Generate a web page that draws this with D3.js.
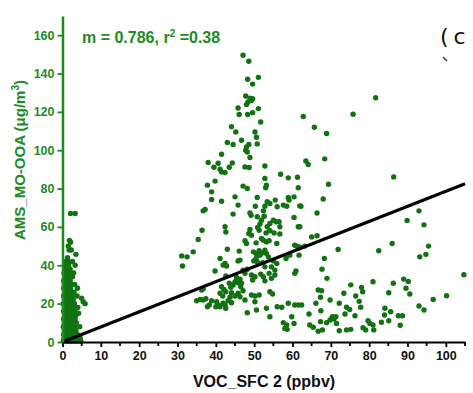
<!DOCTYPE html>
<html>
<head>
<meta charset="utf-8">
<script src="https://cdn.jsdelivr.net/npm/d3@7"></script>
<style>
  body { margin: 0; background: #fff; }
  svg { display: block; }
  text { font-family: "Liberation Sans", Arial, sans-serif; }
</style>
</head>
<body>
<div id="chart"></div>
<script>
// tick labels
var xTicks = [0, 10, 20, 30, 40, 50, 60, 70, 80, 90, 100];
var xMinorTicks = [5, 15, 25, 35, 45, 55, 65, 75, 85, 95, 105];
var yTicks = [0, 20, 40, 60, 80, 100, 120, 140, 160];

// fit
var slope = 0.786;
var rSquared = 0.38;

// points close to 0 ppbv (the dense column next to the y axis)
var nearSurface = [
    [0.2,0.5],[0.7,0.5],[1.2,0.5],[1.7,0.5],[2.2,0.5],[2.7,0.5],[3.2,0.5],[3.7,0.5],[4.2,0.5],[4.8,0.5],
    [0.4,2],[1.0,2],[1.6,2],[2.2,2],[2.8,2],[3.4,2],[4.0,2],[4.6,2],
    [0.3,4],[0.9,4],[1.5,4],[2.1,4],[2.7,4],[3.3,4],[3.9,4],
    [0.5,6],[1.1,6],[1.7,6],[2.3,6],[2.9,6],[3.5,6],
    [0.2,8],[0.8,8],[1.4,8],[2.0,8],[2.6,8],[3.2,8],[4.5,8],
    [0.5,10],[1.1,10],[1.7,10],[2.3,10],[2.9,10],[3.6,10],
    [0.3,12],[0.9,12],[1.5,12],[2.1,12],[2.7,12],[3.3,12],
    [0.6,14],[1.2,14],[1.8,14],[2.4,14],[3.0,14],[3.5,14],[4.2,15],
    [0.3,16],[0.9,16],[1.5,16],[2.1,16],[2.7,16],[3.2,16],
    [0.5,18],[1.1,18],[1.7,18],[2.3,18],[2.9,18],[4.0,18],
    [0.2,20],[0.8,20],[1.4,20],[2.0,20],[2.6,20],[3.1,20],
    [0.5,22],[1.1,22],[1.7,22],[2.3,22],[2.8,22],
    [0.3,24],[0.9,24],[1.5,24],[2.1,24],[2.6,24],[3.8,24],
    [0.6,26],[1.2,26],[1.8,26],[2.4,26],[3.0,26],
    [0.3,28],[0.9,28],[1.5,28],[2.1,28],[3.9,28],
    [0.5,30],[1.1,30],[1.7,30],[2.4,30],[3.2,30],
    [0.3,32],[0.9,32],[1.4,32],[2.0,32],
    [0.6,34],[1.2,34],[1.8,34],[2.6,34],
    [0.4,36],[1.0,36],[1.6,36],[2.9,36],
    [0.7,38],[1.3,38],[2.0,38],
    [0.5,40],[1.1,40],[1.6,40],[3.3,40],
    [0.9,42],[1.5,42],[2.6,42],[1.3,44],
    [3.5,45.7],[1.7,48],[2.3,48],[1.5,50],[2.1,52],[1.8,53],
    [2.1,67],[3.3,67],
    [5.0,22.8],[5.4,21],[5.9,20]
];

// the scattered cloud from ~30 to 105 ppbv
var mainCloud = [
    [47.1,149.5],[48.6,146.4],[48.3,137.0],[51.1,138.0],[49.6,134.5],[47.8,128.3],[48.9,127.2],
    [49.3,126.0],[48.4,125.2],[48.0,123.8],[49.6,126.9],[45.8,122.0],[51.1,121.7],[46.1,118.6],
    [48.3,118.6],[49.6,119.6],[51.7,114.7],[62.8,117.6],[44.1,112.3],[45.2,109.5],[50.2,109.5],
    [50.6,106.8],[46.7,105.2],[43.0,104.0],[44.5,103.0],[50.8,103.3],[48.6,103.0],[48.0,101.7],
    [47.8,100.0],[48.2,99.1],[41.5,97.9],[48.9,96.2],[38.0,93.6],[40.6,93.2],[39.5,91.1],
    [44.3,93.4],[43.5,91.1],[41.1,90.1],[41.5,88.7],[42.4,88.4],[47.6,91.3],[48.7,91.0],
    [52.8,91.8],[63.5,94.4],[64.1,92.6],[56.9,87.5],[58.9,85.6],[61.3,85.9],[52.8,85.3],
    [39.8,83.9],[38.9,78.3],[47.1,81.3],[48.2,80.1],[53.2,81.8],[53.0,80.4],[61.5,80.4],
    [37.8,81.8],[65.7,112.0],[68.9,108.7],[75.8,118.8],[81.7,127.4],[68.4,95.5],[69.4,82.3],
    [86.4,86.1],[68.0,74.6],[66.4,67.3],[61.9,71.0],[61.9,60.1],[65.0,54.8],[66.4,55.4],
    [61.9,49.6],[71.9,48.3],[68.3,43.6],[67.7,38.0],[69.0,33.2],[82.5,47.6],[86.0,51.4],
    [89.9,63.4],[93.0,68.4],[94.3,61.1],[95.5,50.0],[93.2,44.4],[94.8,45.7],[104.7,35.1],
    [66.7,27.1],[67.6,26.7],[75.2,29.8],[78.0,28.5],[78.3,26.2],[81.0,31.4],[86.3,30.6],
    [89.0,32.8],[90.2,31.6],[89.6,28.0],[90.6,25.0],[85.1,25.7],[76.5,24.0],[73.4,25.4],
    [67.3,23.3],[69.8,21.9],[62.4,19.3],[66.1,20.2],[72.2,20.2],[77.4,21.2],[77.8,18.1],
    [74.1,18.1],[74.9,17.0],[96.7,22.2],[100.2,24.1],[93.0,18.8],[94.3,16.7],[84.1,17.6],
    [84.0,14.1],[85.6,15.8],[85.1,11.1],[87.6,13.7],[88.7,13.7],[88.1,8.7],[64.3,14.6],
    [67.4,16.3],[73.7,14.6],[76.3,13.7],[70.4,13.2],[70.8,12.0],[71.3,13.2],[69.8,11.5],
    [71.5,9.7],[68.9,10.1],[67.3,10.6],[64.5,8.9],[65.4,7.7],[66.7,5.6],[67.8,6.3],
    [72.2,5.9],[74.1,6.3],[75.2,6.6],[78.4,7.4],[79.1,6.3],[79.7,11.1],[80.2,9.7],
    [81.0,8.9],[81.2,6.3],[83.2,10.3],
    [38.9,74.3],[41.5,73.4],[45.0,75.7],[50.8,75.4],[45.8,71.4],[37.2,69.1],[36.7,68.4],
    [44.5,66.7],[48.9,67.3],[49.2,66.1],[50.3,70.8],[53.4,73.1],[54.1,72.2],[52.8,70.8],
    [52.4,68.4],[55.5,74.0],[56.0,70.5],[57.6,71.4],[58.9,75.4],[59.1,74.0],[58.5,70.8],
    [60.4,75.7],[50.8,65.3],[51.9,63.5],[52.6,65.6],[51.5,61.5],[55.0,63.5],[55.7,62.7],
    [54.1,61.8],[53.4,60.1],[56.5,62.7],[56.7,60.1],[60.4,64.9],[61.5,60.1],[36.4,58.3],
    [42.4,60.1],[42.6,57.4],[48.9,58.7],[48.6,56.6],[49.3,55.7],[50.9,59.7],[51.3,58.3],
    [53.1,56.9],[54.1,58.0],[55.2,56.9],[56.7,56.3],[35.4,53.5],[47.6,52.8],[48.0,51.4],
    [51.9,54.0],[52.4,53.1],[53.2,52.2],[53.9,52.8],[50.5,51.7],[55.9,51.4],[60.6,50.5],
    [61.1,50.0],[63.2,50.0],[31.1,44.9],[32.5,44.4],[34.1,47.0],[31.3,39.6],[43.0,48.4],
    [46.1,47.4],[41.1,43.6],[42.4,41.0],[42.8,39.6],[41.9,40.1],[45.8,42.3],[46.3,42.7],
    [49.8,47.0],[50.5,46.2],[51.3,47.6],[51.5,45.3],[52.2,46.5],[52.8,47.9],[53.2,46.2],
    [53.7,44.4],[49.9,42.3],[50.5,43.6],[50.8,41.8],[52.2,41.3],[52.8,39.2],[55.0,42.3],
    [55.9,41.0],[54.5,39.2],[55.4,37.5],[58.3,43.6],[59.3,45.3],[61.7,45.3],[39.8,37.0],
    [42.6,34.4],[47.1,37.5],[48.2,37.9],[47.6,35.8],[49.3,34.9],[50.2,34.0],[49.6,32.3],
    [45.4,33.7],[46.3,32.7],[45.8,30.9],[45.0,31.4],[44.5,29.7],[46.7,30.6],[46.5,28.8],
    [43.5,30.6],[43.9,28.5],[51.7,35.4],[52.4,34.0],[52.8,31.9],[53.9,35.8],[54.5,33.2],
    [55.4,34.9],[60.9,37.1],[60.6,35.8],[36.3,27.1],[36.7,27.8],[41.5,28.8],[42.1,27.4],
    [42.6,26.2],[41.1,25.4],[41.8,24.0],[44.1,25.7],[43.7,23.3],[45.0,24.0],[45.8,25.4],
    [47.1,26.7],[46.3,23.6],[49.3,24.5],[50.2,24.0],[51.3,24.5],[54.8,25.0],[54.1,26.2],
    [35.0,21.5],[35.9,22.2],[36.7,21.9],[37.4,22.6],[38.3,19.3],[37.8,18.4],[38.9,21.5],
    [40.2,21.0],[40.6,19.3],[41.1,18.4],[40.0,18.4],[41.9,20.2],[42.6,17.6],[42.4,19.3],
    [43.2,21.5],[44.1,20.5],[47.6,21.9],[50.2,21.0],[48.2,15.3],[50.6,16.7],[53.2,17.6],
    [54.1,13.2],[56.0,18.4],[57.2,18.1],[58.9,20.2],[60.6,19.3],[61.5,19.3],[59.8,13.2],
    [57.6,10.1],[58.5,8.9],[58.0,7.1],[58.6,6.6],[60.4,9.7],[62.2,70.8]
];

var W = 473, H = 393;
var dotColor = "#107210";
var green = "#1f8a1f";

var svg = d3.select("#chart").append("svg")
    .attr("width", W)
    .attr("height", H);

var x = d3.scaleLinear().domain([0, 105]).range([62.5, 465]);
var y = d3.scaleLinear().domain([0, 170]).range([342, 16]);

// points
var all = nearSurface.concat(mainCloud);
svg.append("g").selectAll("circle")
    .data(all)
    .enter().append("circle")
    .attr("cx", function(d){ return x(d[0]); })
    .attr("cy", function(d){ return y(d[1]); })
    .attr("r", 2.7)
    .attr("fill", dotColor);

// regression line through origin
svg.append("line")
    .attr("x1", x(0)).attr("y1", y(0))
    .attr("x2", x(105)).attr("y2", y(slope * 105))
    .attr("stroke", "#000")
    .attr("stroke-width", 3);

// x axis
var xAxis = svg.append("g")
    .attr("transform", "translate(0," + y(0) + ")")
    .call(d3.axisBottom(x).tickValues(xTicks).tickSize(5).tickSizeOuter(0));
xAxis.select(".domain").attr("stroke", "#000").attr("stroke-width", 2.2);
xAxis.selectAll(".tick line").attr("stroke", "#000").attr("stroke-width", 1.8);
xAxis.selectAll(".tick text")
    .attr("y", 9)
    .attr("fill", "#111")
    .style("font-size", "12.5px")
    .style("font-weight", "bold");

svg.append("g")
    .attr("transform", "translate(0," + y(0) + ")")
    .selectAll("line")
    .data(xMinorTicks)
    .enter().append("line")
    .attr("x1", function(d){ return x(d); })
    .attr("x2", function(d){ return x(d); })
    .attr("y1", 0).attr("y2", 4)
    .attr("stroke", "#000").attr("stroke-width", 1.8);

// y axis
var yAxis = svg.append("g")
    .attr("transform", "translate(" + x(0) + ",0)")
    .call(d3.axisLeft(y).tickValues(yTicks).tickSize(5).tickSizeOuter(0));
yAxis.select(".domain").attr("stroke", green).attr("stroke-width", 2.5);
yAxis.selectAll(".tick line").attr("stroke", green).attr("stroke-width", 1.8);
yAxis.selectAll(".tick text")
    .attr("x", -8)
    .attr("fill", green)
    .style("font-size", "12.5px")
    .style("font-weight", "bold");

// axis titles
svg.append("text")
    .attr("x", 264).attr("y", 387)
    .attr("text-anchor", "middle")
    .attr("fill", "#111")
    .style("font-size", "16px")
    .style("font-weight", "bold")
    .text("VOC_SFC 2 (ppbv)");

var yTitle = svg.append("text")
    .attr("transform", "translate(25,160) rotate(-90)")
    .attr("text-anchor", "middle")
    .attr("fill", green)
    .style("font-size", "15px")
    .style("font-weight", "bold");
yTitle.append("tspan").text("AMS_MO-OOA (\u03bcg/m");
yTitle.append("tspan").attr("dy", -6).style("font-size", "10px").text("3");
yTitle.append("tspan").attr("dy", 6).text(")");

// fit annotation
var note = svg.append("text")
    .attr("x", 82).attr("y", 43)
    .attr("fill", green)
    .style("font-size", "16px")
    .style("font-weight", "bold");
note.append("tspan").text("m = " + slope + ", r");
note.append("tspan").attr("dy", -6).style("font-size", "10px").text("2");
note.append("tspan").attr("dy", 6).text(" =" + rSquared);

// panel label, cut by the right edge
var panel = svg.append("text")
    .attr("x", 440).attr("y", 44)
    .attr("fill", "#111")
    .style("font-family", "DejaVu Sans, sans-serif")
    .style("font-size", "22px");
panel.append("tspan").text("(");
panel.append("tspan").attr("dx", 5).text("c");
svg.append("path")
    .attr("d", "M443,57 L447,61")
    .attr("stroke", "#333")
    .attr("stroke-width", 1.5);
</script>
</body>
</html>
